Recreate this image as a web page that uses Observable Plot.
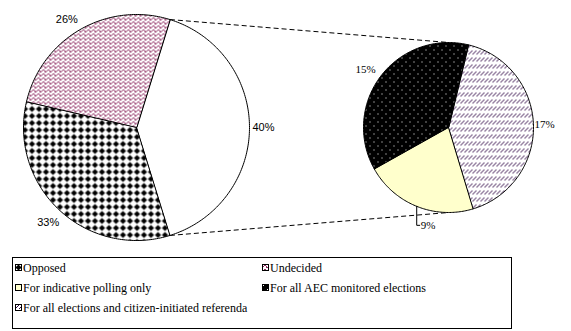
<!DOCTYPE html>
<html>
<head>
<meta charset="utf-8">
<script src="https://cdn.jsdelivr.net/npm/d3@7"></script>
<script src="https://cdn.jsdelivr.net/npm/@observablehq/plot@0.6"></script>
<style>
  html, body { margin: 0; padding: 0; background: #fff; }
  body { width: 571px; height: 331px; overflow: hidden; position: relative; font-family: "Liberation Serif", "Times New Roman", Times, serif; }
  #chart { position: absolute; left: 0; top: 0; }
  #legend { position: absolute; left: 12px; top: 257px; width: 500px; height: 72px; border: 1px solid #000; box-sizing: border-box; }
  .item { position: absolute; height: 20px; line-height: 20px; font-size: 12px; white-space: nowrap; color: #000; font-family: "Liberation Serif", "Times New Roman", Times, serif; }
  .item svg { position: absolute; left: 0; top: 6px; }
  .item span { position: absolute; left: 8px; top: 0; }
</style>
</head>
<body>
<div id="chart"></div>
<div id="legend"></div>
<script>
// ---- data ----
const mainCategories = ["Opposed", "Undecided"];
const mainValues = [33.4, 26.1];
const subCategories = ["For all elections and citizen-initiated referenda", "For indicative polling only", "For all AEC monitored elections"];
const subValues = [16.8, 8.7, 14.9];
const legendOrder = ["Opposed", "Undecided", "For indicative polling only", "For all AEC monitored elections", "For all elections and citizen-initiated referenda"];

// ---- styles ----
const patternId = {
  "Opposed": "pDiamond",
  "Undecided": "pWave",
  "For indicative polling only": null,
  "For all AEC monitored elections": "pDots",
  "For all elections and citizen-initiated referenda": "pHatch",
  "Other": null
};
const plainFill = { "For indicative polling only": "#ffffcc", "Other": "#ffffff" };
const fillOf = name => patternId[name] ? `url(#${patternId[name]})` : plainFill[name];

// ---- layout ----
const W = 571, H = 252;
const leftPie = { cx: 136, cy: 127, r: 113 };
const rightPie = { cx: 448, cy: 127, r: 85 };
const rightStart = 13.5;

function polar(p, deg, r = p.r) {
  const a = deg * Math.PI / 180;
  return { x: p.cx + r * Math.sin(a), y: p.cy - r * Math.cos(a) };
}
function arcPoints(p, a0, a1) {
  const pts = [{ x: p.cx, y: p.cy }];
  const n = Math.max(2, Math.ceil(Math.abs(a1 - a0)));
  for (let i = 0; i <= n; i++) pts.push(polar(p, a0 + (a1 - a0) * i / n));
  return pts;
}

const otherTotal = d3.sum(subValues);
const mainTotal = d3.sum(mainValues) + otherTotal;
const otherSpan = otherTotal / mainTotal * 360;
const leftSlices = [];
let a = 90 - otherSpan / 2;
leftSlices.push({ name: "Other", value: otherTotal, a0: a, a1: a + otherSpan });
a += otherSpan;
mainCategories.forEach((c, i) => {
  const span = mainValues[i] / mainTotal * 360;
  leftSlices.push({ name: c, value: mainValues[i], a0: a, a1: a + span });
  a += span;
});

const rightSlices = [];
a = rightStart;
subCategories.forEach((c, i) => {
  const span = subValues[i] / otherTotal * 360;
  rightSlices.push({ name: c, value: subValues[i], a0: a, a1: a + span });
  a += span;
});

// labels (placed outside each slice, along its mid angle)
function outsideLabel(p, s, halfW, halfH, gap, shift = 0) {
  const m = (s.a0 + s.a1) / 2 + shift;
  const rad = m * Math.PI / 180;
  const off = p.r + gap + halfW * Math.abs(Math.sin(rad)) + halfH * Math.abs(Math.cos(rad));
  const pt = polar(p, m, off);
  return { x: pt.x, y: pt.y, text: Math.round(s.value) + "%" };
}
const leftLabels = leftSlices.map(s =>
  outsideLabel(leftPie, s, 10, 5, s.name === "Other" ? 4 : 6, s.name === "Undecided" ? -3 : 0));
const rightLabels = [];
const leaderPts = [];
let leaderLabel = null;
rightSlices.forEach(s => {
  if (s.name === "For indicative polling only") {
    const e = polar(rightPie, (s.a0 + s.a1) / 2);
    const ly = e.y + 19;
    leaderPts.push({ x: e.x, y: e.y }, { x: e.x, y: ly }, { x: e.x + 3, y: ly });
    leaderLabel = { x: e.x + 4, y: ly, text: Math.round(s.value) + "%" };
  } else {
    rightLabels.push(outsideLabel(rightPie, s, 9, 5, s.name.startsWith("For all elections") ? 2 : 6, s.name.startsWith("For all AEC") ? -2 : 0));
  }
});

// connectors
const oth = leftSlices[0];
const pA = polar(leftPie, oth.a0), pB = polar(leftPie, oth.a1);
const tTop = polar(rightPie, 0), tBot = polar(rightPie, 180);
const connectors = [
  { x1: pA.x, y1: pA.y, x2: tTop.x, y2: tTop.y },
  { x1: pB.x, y1: pB.y, x2: tBot.x, y2: tBot.y }
];

const sliceMark = (p, s) => Plot.line(arcPoints(p, s.a0, s.a1), {
  x: "x", y: "y", curve: "linear-closed",
  fill: fillOf(s.name), stroke: "#000", strokeWidth: 1
});

const svg = Plot.plot({
  width: W, height: H,
  margin: 0,
  x: { domain: [0, W], range: [0, W], axis: null },
  y: { domain: [0, H], range: [0, H], axis: null },
  style: { background: "transparent", overflow: "visible" },
  marks: [
    Plot.link(connectors, { x1: "x1", y1: "y1", x2: "x2", y2: "y2", stroke: "#000", strokeWidth: 1, strokeDasharray: "5,3" }),
    ...leftSlices.map(s => sliceMark(leftPie, s)),
    ...rightSlices.map(s => sliceMark(rightPie, s)),
    Plot.text(leftLabels, { x: "x", y: "y", text: "text", fontFamily: "Liberation Sans, Arial, sans-serif", fontSize: 11, fill: "#000" }),
    Plot.text(rightLabels, { x: "x", y: "y", text: "text", fontFamily: "Liberation Serif, Times New Roman, serif", fontSize: 11, fill: "#000" }),
    Plot.line(leaderPts, { x: "x", y: "y", stroke: "#000", strokeWidth: 1 }),
    Plot.text([leaderLabel], { x: "x", y: "y", text: "text", textAnchor: "start", fontFamily: "Liberation Serif, Times New Roman, serif", fontSize: 11, fill: "#000" })
  ]
});

// pattern definitions
const defs = d3.select(svg).insert("defs", ":first-child");
function pat(id, w, h) {
  return defs.append("pattern").attr("id", id).attr("patternUnits", "userSpaceOnUse")
    .attr("width", w).attr("height", h).attr("shape-rendering", "crispEdges");
}
function px(g, pts, color) {
  pts.forEach(([x, y]) => g.append("rect").attr("x", x).attr("y", y).attr("width", 1).attr("height", 1).attr("fill", color));
}
// diamonds
let g = pat("pDiamond", 7, 7);
g.append("rect").attr("width", 7).attr("height", 7).attr("fill", "#fff");
g.append("polygon").attr("points", "3.5,0.4 6.6,3.5 3.5,6.6 0.4,3.5").attr("fill", "#000").attr("shape-rendering", "auto");
// wave
g = pat("pWave", 5, 4);
g.append("rect").attr("width", 5).attr("height", 4).attr("fill", "#fff");
px(g, [[0, 3], [1, 2], [2, 1], [3, 1], [4, 2], [4, 3]], "#8f2d62");
// dots
g = pat("pDots", 8, 8);
g.append("rect").attr("width", 8).attr("height", 8).attr("fill", "#000");
px(g, [[1, 1], [5, 5]], "#fff");
// hatch
g = pat("pHatch", 4, 7);
g.append("rect").attr("width", 4).attr("height", 7).attr("fill", "#fff");
px(g, [[0, 4], [1, 3], [2, 2], [3, 1]], "#330a48");

document.getElementById("chart").appendChild(svg);

// legend
const legend = d3.select("#legend");
const colX = [2, 249], rowY = [0, 20, 40];
legendOrder.forEach((name, i) => {
  const it = legend.append("div").attr("class", "item")
    .style("left", colX[i % 2] + "px").style("top", rowY[Math.floor(i / 2)] + "px");
  const sw = it.append("svg").attr("width", 7).attr("height", 7);
  sw.append("rect").attr("x", 0.5).attr("y", 0.5).attr("width", 6).attr("height", 6)
    .attr("fill", fillOf(name)).attr("stroke", "#000").attr("stroke-width", 1);
  it.append("span").text(name);
});
</script>
</body>
</html>
